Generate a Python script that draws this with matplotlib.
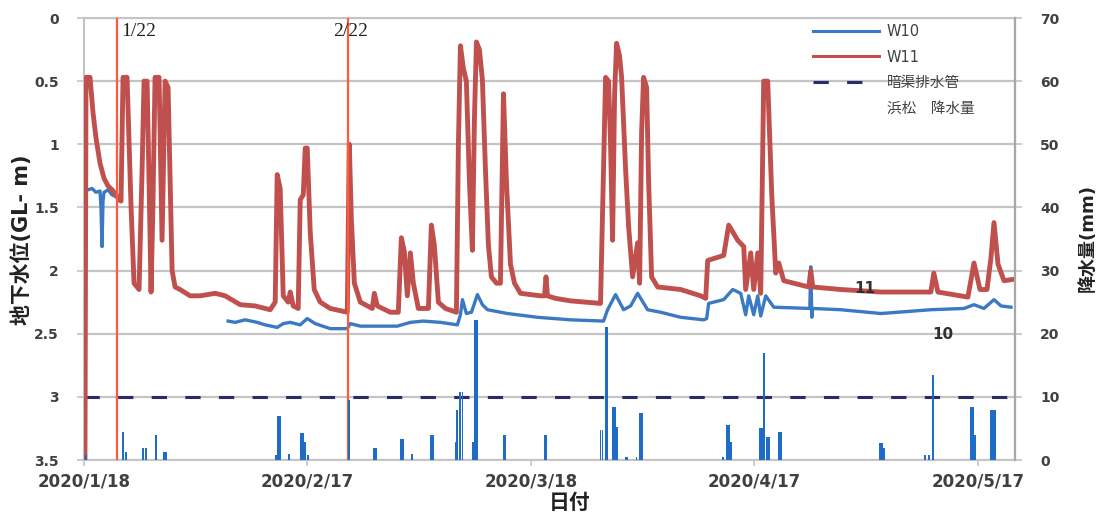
import numpy as np
import pandas as pd
import matplotlib
matplotlib.use("Agg")
import matplotlib.pyplot as plt
import matplotlib.dates as mdates
from matplotlib.lines import Line2D
from matplotlib.ticker import FuncFormatter

plt.rcParams['font.family'] = ['DejaVu Sans', 'Noto Sans CJK JP']

start = pd.Timestamp('2020-01-18')
end = pd.Timestamp('2020-05-22')

# W10 地下水位 (1/18からの日数, GL-m)  途中欠測あり
w10_day = [0.54, 1.08, 1.61, 2.15, 2.28, 2.42, 2.55, 2.69, 3.23, 3.76, 4.44, 4.84,
           12.0,
           19.35, 20.3, 21.64, 23.25, 24.33, 25.94, 26.75, 27.69, 29.03, 29.97, 31.05,
           33.06, 35.35, 35.75, 37.1, 39.78, 42.07, 43.82, 45.56, 47.85, 50.13, 50.54,
           50.81, 51.34, 52.02, 52.82, 53.49, 54.17, 56.85, 60.89, 65.32, 69.76, 70.3,
           71.37, 72.45, 73.39, 74.33, 75.67, 77.42, 80.11, 83.2, 83.6, 83.87, 85.89,
           87.1, 88.17, 88.84, 89.25, 89.92, 90.46, 90.86, 91.53, 92.61, 97.45, 97.58,
           97.72, 97.85, 101.6, 107.0, 113.7, 118.15, 119.49, 120.83, 122.18, 123.12,
           124.46]
w10_level = [1.36, 1.35, 1.38, 1.37, 1.5, 1.81, 1.45, 1.38, 1.36, 1.40, 1.42, 1.44,
             np.nan,
             2.40, 2.41, 2.39, 2.41, 2.43, 2.45, 2.42, 2.41, 2.43, 2.38, 2.42,
             2.46, 2.46, 2.42, 2.44, 2.44, 2.44, 2.41, 2.40, 2.41, 2.43, 2.35,
             2.23, 2.34, 2.33, 2.19, 2.27, 2.31, 2.34, 2.37, 2.39, 2.40, 2.31,
             2.19, 2.31, 2.28, 2.18, 2.31, 2.33, 2.37, 2.39, 2.38, 2.26, 2.23,
             2.15, 2.18, 2.35, 2.20, 2.35, 2.20, 2.36, 2.20, 2.29, 2.30, 1.97,
             2.37, 2.30, 2.31, 2.34, 2.31, 2.30, 2.27, 2.30, 2.23, 2.28,
             2.29]

# W11 地下水位
w11_day = [0.13, 0.27, 0.81, 1.21, 1.61, 2.15, 2.69, 3.23, 3.76, 4.30, 4.70, 4.97,
           5.24, 5.78, 6.32, 6.72, 7.39, 7.80, 8.06, 8.47, 8.8, 9.0, 9.25, 9.54,
           10.08, 10.48, 10.89, 11.29, 11.83, 12.23, 12.9, 14.25, 15.59, 17.61, 18.95,
           20.97, 22.98, 25.0, 25.67, 25.94, 26.34, 26.75, 27.42, 27.69, 28.09, 28.76,
           29.03, 29.44, 29.70, 29.97, 30.38, 30.91, 31.72, 33.06, 35.35, 35.62, 35.9,
           36.3, 37.1, 38.71, 38.98, 39.38, 41.13, 42.2, 42.61, 43.01, 43.41, 43.82,
           44.22, 44.89, 46.24, 46.64, 47.04, 47.58, 48.52, 50.0, 50.27, 50.54, 50.94,
           51.34, 51.75, 52.15, 52.42, 52.69, 53.09, 53.49, 53.9, 54.3, 54.7, 55.38,
           55.91, 56.32, 56.72, 57.26, 57.8, 58.6, 61.29, 61.83, 62.03, 62.23, 63.31,
           65.32, 67.34, 69.35, 69.76, 70.03, 70.43, 70.7, 70.97, 71.24, 71.51, 71.91,
           72.18, 72.72, 73.12, 73.66, 74.33, 74.6, 74.87, 75.13, 75.54, 75.81, 76.21,
           77.02, 80.11, 82.8, 83.47, 83.74, 84.81, 85.89, 86.56, 87.77, 88.58, 88.84,
           89.52, 89.92, 90.46, 90.86, 91.26, 91.8, 92.34, 92.88, 93.28, 93.95, 97.31,
           97.58, 97.85, 101.6, 107.0, 113.7, 114.1, 114.65, 118.68, 119.49, 120.3,
           121.24, 121.77, 122.18, 122.72, 123.52, 124.73]
w11_level = [3.5, 0.47, 0.47, 0.75, 0.95, 1.15, 1.27, 1.33, 1.36, 1.40, 1.44, 1.45,
             0.47, 0.47, 1.5, 2.1, 2.15, 1.2, 0.5, 0.5, 1.5, 2.17, 1.5, 0.47,
             0.47, 1.76, 0.5, 0.55, 2.0, 2.13, 2.15, 2.2, 2.2, 2.18, 2.2,
             2.27, 2.28, 2.31, 2.25, 1.24, 1.35, 2.2, 2.25, 2.17, 2.28, 2.3,
             1.44, 1.4, 1.03, 1.03, 1.7, 2.15, 2.25, 2.3, 2.33, 1.0, 1.6,
             2.1, 2.25, 2.3, 2.18, 2.28, 2.33, 2.33, 1.74, 1.85, 2.2, 1.86,
             2.1, 2.3, 2.3, 1.64, 1.8, 2.25, 2.3, 2.33, 1.0, 0.22, 0.4,
             0.5, 1.3, 1.84, 0.8, 0.19, 0.25, 0.49, 1.2, 1.8, 2.05, 2.1,
             2.1, 0.6, 1.3, 1.95, 2.1, 2.18, 2.2, 2.2, 2.05, 2.2, 2.22,
             2.24, 2.25, 2.26, 1.2, 0.47, 0.5, 1.0, 1.76, 0.6, 0.2, 0.3,
             0.47, 1.2, 1.65, 2.05, 1.78, 2.1, 0.9, 0.47, 0.55, 1.3, 2.05,
             2.13, 2.15, 2.2, 2.22, 1.92, 1.9, 1.88, 1.64, 1.76, 1.81, 2.15,
             1.86, 2.15, 1.86, 2.18, 0.5, 0.5, 1.4, 2.02, 1.94, 2.08, 2.13,
             2.0, 2.13, 2.15, 2.17, 2.17, 2.02, 2.17, 2.21, 1.94, 2.15,
             2.15, 1.9, 1.62, 1.95, 2.08, 2.07]

# 浜松 降水量 (mm)
rain_day = [0.27, 5.24, 5.65, 7.93, 8.33, 9.68, 10.75, 11.02,
            25.8, 26.08, 26.28, 27.55, 29.17, 29.44, 29.7, 30.11, 35.62,
            38.98, 39.25, 42.61, 42.88, 44.09, 46.64, 46.84,
            49.87, 50.13, 50.54, 50.81, 52.28, 52.55, 52.76, 56.32, 56.52,
            61.83, 62.03, 69.35, 69.62, 70.03, 70.23, 70.97, 71.24, 71.51,
            72.72, 72.98, 74.19, 74.6, 74.87, 85.75, 86.29, 86.56, 86.83,
            90.73, 90.99, 91.26, 91.67, 91.94, 93.28, 93.55,
            106.85, 107.12, 107.39, 112.9, 113.44, 113.98,
            119.09, 119.35, 119.62, 121.77, 122.04, 122.31]
rain_mm = [0.8, 4.4, 1.3, 1.9, 1.9, 4.0, 1.3, 1.3,
           0.8, 6.9, 6.9, 1.0, 4.3, 4.3, 2.9, 0.8, 9.5,
           1.9, 1.9, 3.3, 3.3, 1.0, 4.0, 4.0,
           2.9, 7.9, 10.8, 10.8, 2.9, 22.2, 22.2, 4.0, 4.0,
           4.0, 4.0, 4.7, 4.7, 21.0, 21.0, 8.4, 8.4, 5.2,
           0.5, 0.5, 0.5, 7.4, 7.4, 0.5, 5.5, 5.5, 2.9,
           5.0, 5.0, 17.0, 3.7, 3.7, 4.4, 4.4,
           2.7, 2.7, 1.9, 0.8, 0.8, 13.5,
           8.4, 8.4, 4.0, 7.9, 7.9, 7.9]

drain_depth = 3.0

mark_times = ['2020-01-22 10:00', '2020-02-22 12:00']
mark_labels = ['1/22', '2/22']

left_ticks = [0, 0.5, 1, 1.5, 2, 2.5, 3, 3.5]
left_labels = ['0', '0.5', '1', '1.5', '2', '2.5', '3', '3.5']
right_ticks = [0, 10, 20, 30, 40, 50, 60, 70]
x_ticks = ['2020-01-18', '2020-02-17', '2020-03-18', '2020-04-17', '2020-05-17']

c_w10 = '#3B79C3'
c_w11 = '#C0504D'
c_rain = '#1E6CC6'
c_drain = '#2B2A6B'
c_mark = '#FF5A3C'
c_text = '#404040'
c_grid = '#C4C4C4'

w10_t = start + pd.to_timedelta(w10_day, unit='D')
w11_t = start + pd.to_timedelta(w11_day, unit='D')
rain_t = start + pd.to_timedelta(rain_day, unit='D')

fig = plt.figure(figsize=(11.1, 5.16), dpi=100)
ax = fig.add_axes([84 / 1110, 56 / 516, 931 / 1110, 442 / 516])
ax2 = ax.twinx()

# 水位
ax.plot(w10_t, w10_level, color=c_w10, lw=2.4, zorder=3)
ax.plot(w11_t, w11_level, color=c_w11, lw=3.5, zorder=4)
ax.axhline(drain_depth, color=c_drain, lw=2.2, ls=(0, (5, 6)), zorder=2)

for t, lab, dx in zip(mark_times, mark_labels, [3, -11]):
    ax.axvline(pd.Timestamp(t), color=c_mark, lw=1.6, zorder=5)
    ax.annotate(lab, xy=(pd.Timestamp(t), 0.11), xytext=(dx, 0), textcoords='offset points',
                ha='left', va='center', fontsize=14, family='Liberation Serif',
                color='#222222', zorder=6)

ax.text(start + pd.Timedelta(days=104.9), 2.14, '11', ha='center', va='center',
        fontsize=11, fontweight='bold', color='#303030', zorder=6)
ax.text(start + pd.Timedelta(days=115.3), 2.51, '10', ha='center', va='center',
        fontsize=11, fontweight='bold', color='#303030', zorder=6)

ax.set_xlim(start, end)
ax.set_ylim(3.5, 0)
ax.set_yticks(left_ticks)
ax.set_yticklabels(left_labels, fontweight='bold')
ax.set_xticks(pd.to_datetime(x_ticks))
ax.xaxis.set_major_formatter(FuncFormatter(
    lambda v, p: '{0.year}/{0.month}/{0.day}'.format(mdates.num2date(v))))
for lab in ax.get_xticklabels():
    lab.set_fontweight('bold')
ax.tick_params(axis='y', labelsize=10, colors=c_text, length=5, width=1.2, pad=13)
ax.tick_params(axis='x', labelsize=12, colors=c_text, length=4, width=1.2, pad=5)
ax.tick_params(axis='both', color=c_grid)
ax.yaxis.grid(True, color=c_grid, lw=1.6)
ax.set_axisbelow(True)
for s in ax.spines.values():
    s.set_color(c_grid)
    s.set_linewidth(1.5)

# 降水量
ax2.bar(rain_t, rain_mm, width=0.25, color=c_rain, zorder=3)
ax2.set_ylim(0, 70)
ax2.set_yticks(right_ticks)
ax2.set_yticklabels([str(v) for v in right_ticks], fontweight='bold')
ax2.tick_params(axis='y', labelsize=10, colors=c_text, length=5, width=1.2, pad=13)
ax2.tick_params(axis='y', color=c_grid)
for k, s in ax2.spines.items():
    s.set_visible(k == 'right')
    s.set_color('#A8A8A8')
    s.set_linewidth(1.6)

handles = [Line2D([], [], color=c_w10, lw=2.2),
           Line2D([], [], color=c_w11, lw=2.2),
           Line2D([], [], color=c_drain, lw=2.2, ls=(0, (5, 6))),
           Line2D([], [], color='none')]
labels = ['W10', 'W11', '暗渠排水管', '浜松\u3000降水量']
leg = fig.legend(handles, labels, loc='upper left', bbox_to_anchor=(813 / 1110, 1 - 24 / 516),
                 frameon=False, fontsize=10.5, handlelength=4.5, handletextpad=0.55,
                 labelspacing=0.72, borderpad=0, borderaxespad=0)
for t in leg.get_texts():
    t.set_color(c_text)

fig.text(22 / 1110, 1 - 240 / 516, '地下水位(GL- m)', rotation=90, ha='center', va='center',
         fontsize=15, fontweight='bold', color='#222222')
fig.text(1088 / 1110, 1 - 238 / 516, '降水量(mm)', rotation=90, ha='center', va='center',
         fontsize=13, fontweight='bold', color='#222222')
fig.text(570 / 1110, 13 / 516, '日付', ha='center', va='center',
         fontsize=15, fontweight='bold', color='#222222')

fig.savefig('out.png', dpi=100)
